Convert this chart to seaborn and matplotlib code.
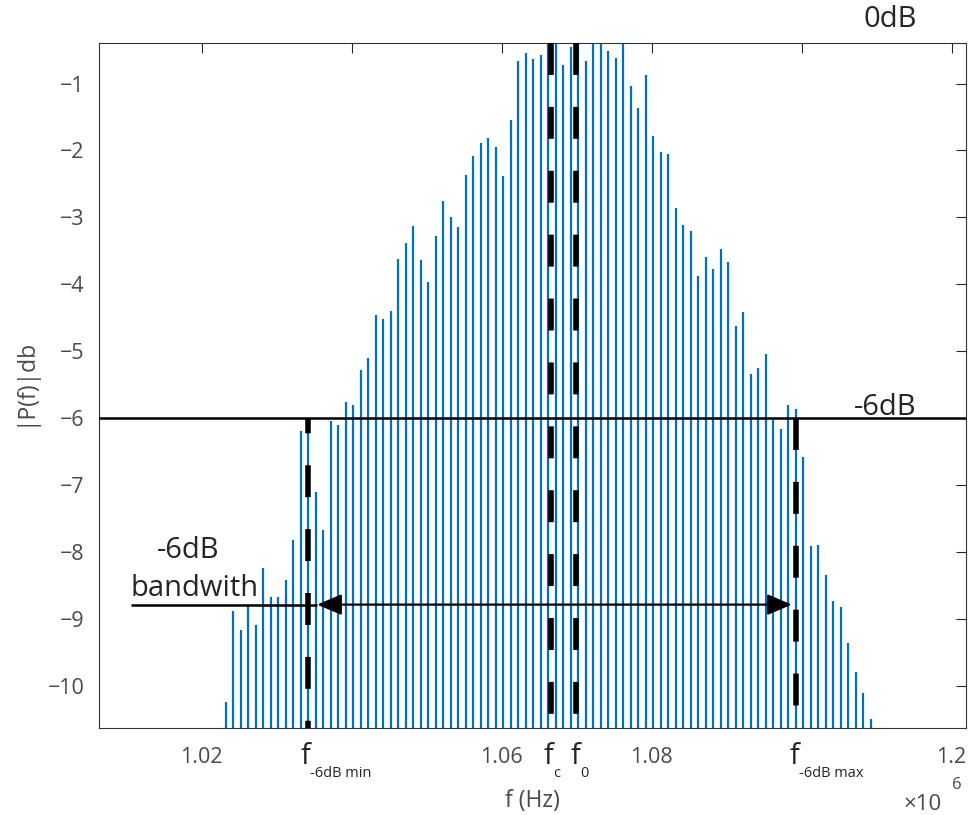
import numpy as np
import pandas as pd
import matplotlib
matplotlib.use("Agg")
import matplotlib.pyplot as plt
import seaborn as sns

# ---------------- data ----------------
freq_khz = [
    1023.2, 1024.2, 1025.2, 1026.2, 1027.2, 1028.2, 1029.2, 1030.2, 1031.2, 1032.2,
    1033.2, 1034.2, 1035.2, 1036.2, 1037.2, 1038.2, 1039.2, 1040.2, 1041.2, 1042.2,
    1043.2, 1044.2, 1045.2, 1046.2, 1047.2, 1048.2, 1049.2, 1050.2, 1051.2, 1052.2,
    1053.2, 1054.2, 1055.2, 1056.2, 1057.2, 1058.2, 1059.2, 1060.2, 1061.2, 1062.2,
    1063.2, 1064.2, 1065.2, 1066.2, 1067.2, 1068.2, 1069.2, 1070.2, 1071.2, 1072.2,
    1073.2, 1074.2, 1075.2, 1076.2, 1077.2, 1078.2, 1079.2, 1080.2, 1081.2, 1082.2,
    1083.2, 1084.2, 1085.2, 1086.2, 1087.2, 1088.2, 1089.2, 1090.2, 1091.2, 1092.2,
    1093.2, 1094.2, 1095.2, 1096.2, 1097.2, 1098.2, 1099.2, 1100.2, 1101.2, 1102.2,
    1103.2, 1104.2, 1105.2, 1106.2, 1107.2, 1108.2, 1109.2,
]
level_db = [
    -10.25, -8.89, -9.17, -8.80, -9.10, -8.25, -8.68, -8.68, -8.42, -7.83,
    -6.19, -6.10, -7.10, -7.68, -6.04, -6.10, -5.76, -5.80, -5.29, -5.10,
    -4.46, -4.52, -4.40, -3.63, -3.39, -3.13, -3.64, -3.97, -3.28, -2.76,
    -2.99, -3.15, -2.37, -2.09, -1.89, -1.81, -1.95, -2.38, -1.54, -0.66,
    -0.55, -0.63, -0.58, -0.20, -0.10, -0.73, -0.46, -0.15, -0.66, -0.25,
    0.00, -0.51, -0.62, -0.30, -1.04, -1.36, -0.87, -1.78, -2.03, -2.06,
    -2.86, -3.11, -3.21, -3.88, -3.60, -3.77, -3.48, -3.67, -4.62, -4.41,
    -5.34, -5.25, -5.04, -6.03, -6.17, -5.80, -5.86, -6.58, -7.92, -7.90,
    -8.35, -8.73, -8.83, -9.37, -9.79, -10.11, -10.50,
]

f_min_6db = 1.0342   # x 10^6 Hz
f_c = 1.0666
f_0 = 1.0699
f_max_6db = 1.0992
level_6db = -6.0
bw_level = -8.79
arrow_left = 1.0354
arrow_right = 1.0987
bw_line_start = 1.0106

x_ticks = [1.02, 1.04, 1.06, 1.08, 1.10, 1.12]
x_tick_labels = ["1.02", "", "1.06", "1.08", "", "1.2"]
y_ticks = [-10, -9, -8, -7, -6, -5, -4, -3, -2, -1]
y_tick_labels = ["\u221210", "\u22129", "\u22128", "\u22127", "\u22126",
                 "\u22125", "\u22124", "\u22123", "\u22122", "\u22121"]

# ---------------- style ----------------
sns.set_style("white")
plt.rcParams["font.family"] = ["Open Sans", "DejaVu Sans"]
GRAY = "#4a4a4a"
BLUE = "#0072BD"

fig = plt.figure(figsize=(9.72, 8.15), dpi=100)
W, H = 972, 815
L, R, T, B = 98.5, 966, 42.7, 727.7
ax = fig.add_axes([L / W, 1 - B / H, (R - L) / W, (B - T) / H])

x_lim = (1.00624, 1.12193)
y_lim = (-10.63, -0.39)
baseline = -11.5

# stems via seaborn lineplot (one unit per stem)
fx = np.array(freq_khz) / 1000.0
rows = []
for k, (f, v) in enumerate(zip(fx, level_db)):
    rows.append({"f": f, "db": baseline, "stem": k})
    rows.append({"f": f, "db": v, "stem": k})
df = pd.DataFrame(rows)
sns.lineplot(data=df, x="f", y="db", units="stem", estimator=None, sort=False,
             color=BLUE, lw=1.6, ax=ax, legend=False, solid_capstyle="butt")

ax.set_xlim(*x_lim)
ax.set_ylim(*y_lim)

# -6 dB line
ax.axhline(level_6db, color="black", lw=1.8, zorder=4)

# dashed markers
dash_lw = 4.0
ax.plot([f_min_6db, f_min_6db], [level_6db, baseline], color="black", lw=dash_lw,
        linestyle=(3.0, (5.75, 5.75)), dash_capstyle="butt", zorder=5)
ax.plot([f_max_6db, f_max_6db], [level_6db, baseline], color="black", lw=dash_lw,
        linestyle=(0, (5.75, 5.75)), dash_capstyle="butt", zorder=5)
for fv in (f_c, f_0):
    ax.plot([fv, fv], [y_lim[1], baseline], color="black", lw=dash_lw,
            linestyle=(0, (5.75, 5.75)), dash_capstyle="butt", zorder=5)

# bandwidth arrow
ax.plot([bw_line_start, arrow_left], [bw_level, bw_level], color="black", lw=1.8,
        zorder=6, solid_capstyle="butt")
ax.annotate("", xy=(arrow_right, bw_level), xytext=(arrow_left, bw_level),
            arrowprops=dict(arrowstyle="<|-|>,head_length=0.75,head_width=0.32",
                            color="black", lw=1.6, mutation_scale=20,
                            shrinkA=0, shrinkB=0), zorder=6)

# axes styling
ax.set_xticks(x_ticks)
ax.set_xticklabels(x_tick_labels)
ax.set_yticks(y_ticks)
ax.set_yticklabels(y_tick_labels)
ax.tick_params(axis="both", direction="in", length=7, width=0.8, color="#262626",
               top=True, right=True, labelsize=15.5, labelcolor=GRAY)
ax.tick_params(axis="x", pad=14)
ax.tick_params(axis="y", pad=10)
for s in ax.spines.values():
    s.set_color("#333333")
    s.set_linewidth(0.8)
    s.set_visible(True)

ax.set_xlabel("f (Hz)", fontsize=16.5, color=GRAY, labelpad=15)
ax.set_ylabel("|P(f)|db", fontsize=16.5, color=GRAY)
ax.yaxis.set_label_coords(-0.071, 0.505)

# text annotations
ANN = 21
ax.text(1.1118, -0.05, "0dB", fontsize=ANN, ha="center", va="center", clip_on=False)
ax.text(1.1112, -5.96, "-6dB", fontsize=ANN, ha="center", va="baseline")
ax.text(1.01825, -8.09, "-6dB", fontsize=ANN, ha="center", va="baseline")
ax.text(1.01057, -8.66, "bandwith", fontsize=ANN, ha="left", va="baseline")

def flabel(xc, sub):
    ax.text(xc, -11.18, "f", fontsize=ANN, ha="center", va="baseline", clip_on=False)
    ax.text(xc + 0.0007, -11.36, sub, fontsize=10.5, ha="left", va="baseline",
            clip_on=False)

flabel(f_min_6db - 0.0004, "-6dB min")
flabel(f_c - 0.0004, "c")
flabel(f_0 - 0.0001, "0")
flabel(f_max_6db - 0.0002, "-6dB max")

# x10^6 multiplier
fig.text(904 / W, 1 - 804 / H, "\u00d710", fontsize=16, color=GRAY, ha="left", va="center")
fig.text(952 / W, 1 - 785 / H, "6", fontsize=12, color=GRAY, ha="left", va="center")

fig.savefig("out.png", dpi=100)
